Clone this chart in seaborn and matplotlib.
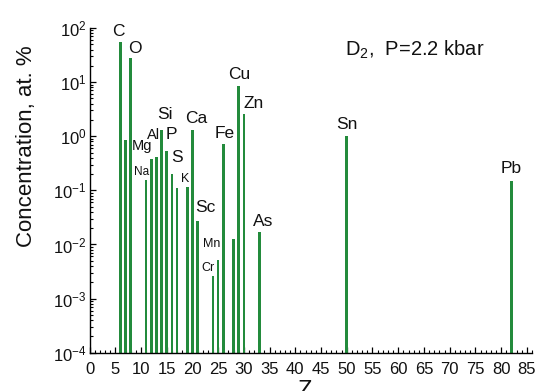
import matplotlib
matplotlib.use('Agg')
import matplotlib.pyplot as plt
import seaborn as sns
import pandas as pd
from matplotlib.ticker import LogLocator, LogFormatterMathtext, MultipleLocator, NullFormatter

# ---- data ----
atomic_number = [6, 7, 8, 11, 12, 13, 14, 15, 16, 17, 19, 20, 21, 24, 25, 26, 28, 29, 30, 33, 50, 82]
concentration = [55, 0.84, 28, 0.153, 0.385, 0.41, 1.32, 0.54, 0.20, 0.11, 0.114, 1.32,
                 0.0268, 0.00259, 0.00526, 0.718, 0.0128, 8.55, 2.57, 0.0168, 1.0, 0.147]

# element labels as they appear on the chart
label_text = ['C', 'O', 'Mg', 'Na', 'Al', 'Si', 'P', 'S', 'K', 'Ca', 'Sc', 'Mn', 'Cr',
              'Fe', 'Cu', 'Zn', 'As', 'Sn', 'Pb']
label_x = [5.6, 8.85, 10.15, 10.15, 12.5, 14.7, 15.85, 16.95, 18.6, 20.7, 22.45, 23.75, 22.98,
           26.2, 29.1, 31.85, 33.67, 50.0, 81.9]
label_y = [86, 41, 0.648, 0.215, 1.07, 2.57, 1.07, 0.413, 0.162, 2.1, 0.0473, 0.0104, 0.0037,
           1.1, 13.6, 4.1, 0.0268, 1.63, 0.251]
label_size = [12.5, 12.5, 10.5, 8.5, 10.5, 12.5, 12.5, 12.5, 9, 12.5, 12.5, 9, 9,
              12.5, 12.5, 12.5, 12.5, 12.5, 12.5]

GREEN = '#238b3c'

sns.set_style('ticks')
plt.rcParams['font.family'] = ['Liberation Sans', 'DejaVu Sans']
plt.rcParams['mathtext.fontset'] = 'custom'
plt.rcParams['mathtext.rm'] = 'Liberation Sans'
plt.rcParams['mathtext.it'] = 'Liberation Sans:italic'
plt.rcParams['mathtext.bf'] = 'Liberation Sans:bold'
plt.rcParams['mathtext.default'] = 'regular'

W, H = 542, 391
fig = plt.figure(figsize=(W / 100, H / 100), dpi=100)
x0, x1, y_top, y_bot = 89.5, 532, 28, 352.7
ax = fig.add_axes([x0 / W, 1 - y_bot / H, (x1 - x0) / W, (y_bot - y_top) / H])

df = pd.DataFrame({'Z': atomic_number, 'conc': concentration})
sns.barplot(data=df, x='Z', y='conc', native_scale=True, width=0.5, color=GREEN,
            saturation=1, linewidth=0, ax=ax)
ax.set_yscale('log')
ax.set_ylim(1e-4, 1e2)
ax.set_xlim(0, 86)

ax.xaxis.set_major_locator(MultipleLocator(5))
ax.xaxis.set_minor_locator(MultipleLocator(1))
ax.yaxis.set_major_locator(LogLocator(base=10, numticks=20))
ax.yaxis.set_minor_locator(LogLocator(base=10, subs=range(2, 10), numticks=20))
ax.yaxis.set_major_formatter(LogFormatterMathtext())
ax.yaxis.set_minor_formatter(NullFormatter())

ax.tick_params(axis='both', which='major', direction='in', length=4, width=0.9,
               labelsize=12, color='black', labelcolor='#111111')
ax.tick_params(axis='both', which='minor', direction='in', length=2.2, width=0.8, color='black')
ax.tick_params(axis='x', which='major', pad=6.5)
ax.tick_params(axis='y', which='major', pad=2)

sns.despine(ax=ax)
for s in ['left', 'bottom']:
    ax.spines[s].set_linewidth(1.0)
    ax.spines[s].set_color('black')

ax.set_ylabel('Concentration, at. %', fontsize=16, color='#111111')
ax.yaxis.set_label_coords(-0.118, 0.635)
ax.set_xlabel('Z', fontsize=17, color='#111111')
ax.xaxis.set_label_coords(0.487, -0.085)

for t, x, y, s in zip(label_text, label_x, label_y, label_size):
    ax.text(x, y, t, fontsize=s, ha='center', va='center', color='#111111')

ax.text(0.577, 0.914, r'D$_2$,  P=2.2 kbar', transform=ax.transAxes, fontsize=14.5,
        ha='left', va='baseline', color='#111111')

fig.savefig('out.png', dpi=100)
